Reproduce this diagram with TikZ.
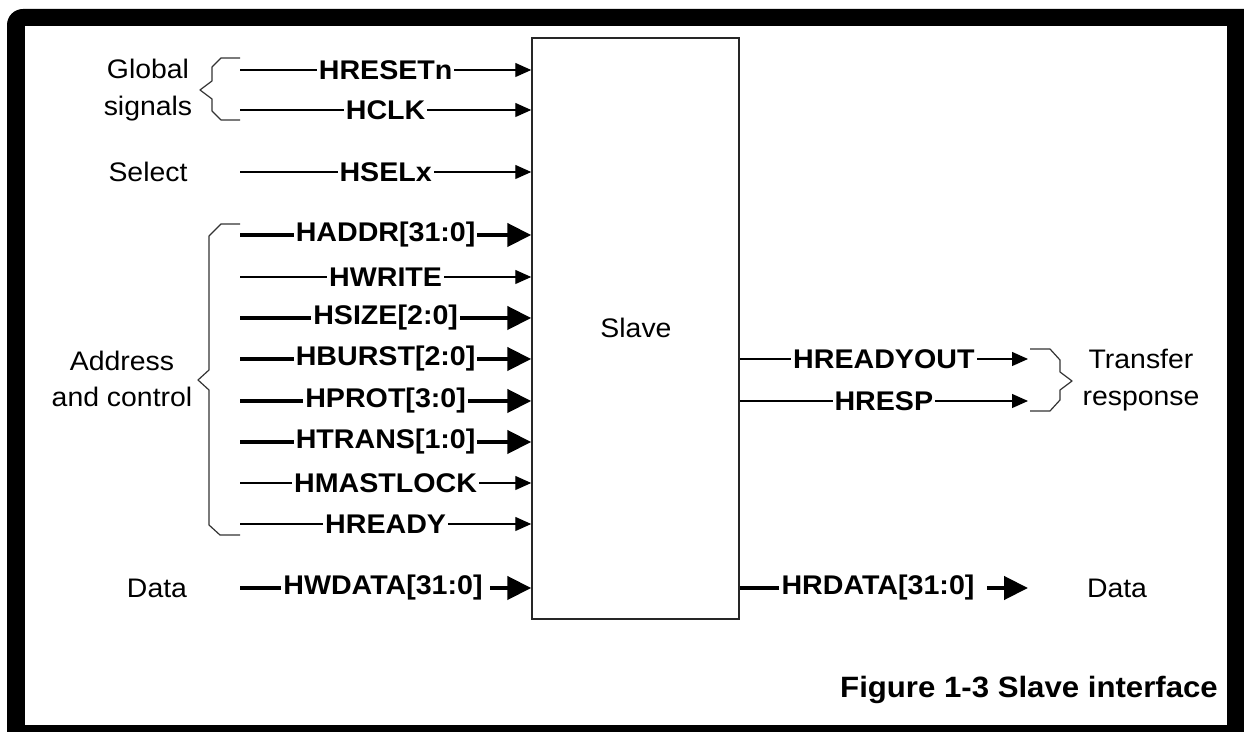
\documentclass[tikz,border=0pt]{standalone}
\usepackage{fontspec}
\setmainfont{Liberation Sans}[FakeStretch=1.06]
\usetikzlibrary{arrows.meta,fit}
\newcommand{\lfont}{\fontsize{13.5pt}{18pt}\selectfont}
\newcommand{\gfont}{\fontsize{13.4pt}{18.3pt}\selectfont}
\begin{document}
\begin{tikzpicture}[x=0.5pt,y=-0.5pt,
  sig/.style={font=\lfont\bfseries, fill=white, inner xsep=1pt, inner ysep=0pt},
  grp/.style={font=\gfont, align=center, inner sep=0pt},
  thinar/.style={line width=0.65pt, -{Triangle[length=8pt,width=7pt]}},
  thickar/.style={line width=2.2pt, -{Triangle[length=12pt,width=11.5pt]}},
  thickln/.style={line width=2.2pt},
  brace/.style={line width=0.6pt, draw=black!80, line join=round}
]
\useasboundingbox (0,0) rectangle (1244,732);
\clip (0,0) rectangle (1244,732);
% frame
\fill[black, rounded corners=8pt] (7,9) rectangle (1262,750);
\fill[white] (25,26) rectangle (1227,725);

% slave box
\node[draw=black!85, line width=0.75pt, inner sep=0pt, fit={(532,38) (739,619)}] (slave) {};
\node[grp] (slavelbl) at (636,328) {Slave};

% left group labels
\node[grp] (glob) at (148,90) {Global\\signals};
\node[grp] (sel) at (148,172) {Select};
\node[grp] (addr) at (122,379) {Address\\and control};
\node[grp] (datal) at (157,588) {Data};

% braces
\draw[brace] (240,58) -- (221,58) -- (212,67) -- (212,81) -- (200,90) -- (212,99) -- (212,111) -- (221,120) -- (240,120);
\draw[brace] (240,224) -- (221,224) -- (209,236) -- (209,370) -- (198,380) -- (209,390) -- (209,525) -- (220,535) -- (240,535);
\draw[brace] (1030,349) -- (1050,349) -- (1060,360) -- (1060,372) -- (1072,381) -- (1060,390) -- (1060,400) -- (1050,411) -- (1030,411);

% inputs
\coordinate (i1) at (240,70);
\coordinate (i2) at (240,110);
\coordinate (i3) at (240,172);
\coordinate (i4) at (240,235);
\coordinate (i5) at (240,277);
\coordinate (i6) at (240,318);
\coordinate (i7) at (240,359);
\coordinate (i8) at (240,401);
\coordinate (i9) at (240,442);
\coordinate (i10) at (240,483);
\coordinate (i11) at (240,524);
\coordinate (i12) at (240,588);

\draw[thinar] (i1) -- node[sig] (l1) {HRESETn} (i1 -| slave.west);
\draw[thinar] (i2) -- node[sig] (l2) {HCLK} (i2 -| slave.west);
\draw[thinar] (i3) -- node[sig] (l3) {HSELx} (i3 -| slave.west);
\draw[thickar] (i4) -- node[sig] (l4) {HADDR[31:0]} (i4 -| slave.west);
\draw[thinar] (i5) -- node[sig] (l5) {HWRITE} (i5 -| slave.west);
\draw[thickar] (i6) -- node[sig] (l6) {HSIZE[2:0]} (i6 -| slave.west);
\draw[thickar] (i7) -- node[sig] (l7) {HBURST[2:0]} (i7 -| slave.west);
\draw[thickar] (i8) -- node[sig] (l8) {HPROT[3:0]} (i8 -| slave.west);
\draw[thickar] (i9) -- node[sig] (l9) {HTRANS[1:0]} (i9 -| slave.west);
\draw[thinar] (i10) -- node[sig] (l10) {HMASTLOCK} (i10 -| slave.west);
\draw[thinar] (i11) -- node[sig] (l11) {HREADY} (i11 -| slave.west);

\node[sig] (l12) at (383,588) {HWDATA[31:0]};
\draw[thickln] (i12) -- (l12.west);
\draw[thickar] ([xshift=2.5pt]l12.east) -- (l12.east -| slave.west);

% outputs
\coordinate (o1) at (1028,359);
\coordinate (o2) at (1028,401);
\coordinate (o3) at (1028,588);
\draw[thinar] (o1 -| slave.east) -- node[sig] (r1) {HREADYOUT} (o1);
\draw[thinar] (o2 -| slave.east) -- node[sig] (r2) {HRESP} (o2);
\node[sig] (r3) at (878,588) {HRDATA[31:0]};
\draw[thickln] (r3.west -| slave.east) -- (r3.west);
\draw[thickar] ([xshift=5pt]r3.east) -- (o3);

% right labels
\node[grp] (tr) at (1141,380) {Transfer\\response};
\node[grp] (datar) at (1117,588) {Data};

% caption
\node[font=\fontsize{14.7pt}{17pt}\selectfont\bfseries, inner sep=0pt] (cap) at (1029,690) {Figure 1-3 Slave interface};
\end{tikzpicture}
\end{document}
